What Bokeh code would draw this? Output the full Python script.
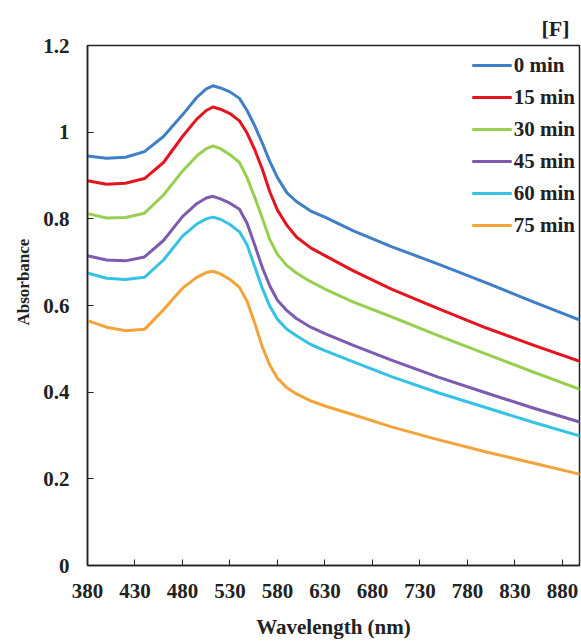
from bokeh.plotting import figure
from bokeh.models import Range1d, FixedTicker, Legend, LegendItem, Title
from bokeh.embed import file_html
from bokeh.resources import INLINE

wavelength = [380, 400, 420, 440, 460, 480, 495, 505, 512, 520, 530, 540, 548, 556, 564,
              572, 580, 590, 600, 615, 630, 660, 700, 750, 800, 850, 900]

abs_0 = [0.945, 0.940, 0.942, 0.955, 0.990, 1.040, 1.080, 1.100, 1.107, 1.102, 1.093, 1.078, 1.050,
         1.015, 0.975, 0.932, 0.895, 0.860, 0.840, 0.818, 0.804, 0.772, 0.736, 0.695, 0.652, 0.608, 0.565]
abs_15 = [0.888, 0.880, 0.882, 0.893, 0.930, 0.990, 1.030, 1.050, 1.058, 1.053, 1.043, 1.026, 0.998,
          0.960, 0.915, 0.862, 0.820, 0.785, 0.758, 0.733, 0.715, 0.680, 0.638, 0.592, 0.548, 0.508, 0.470]
abs_30 = [0.812, 0.802, 0.803, 0.813, 0.855, 0.910, 0.945, 0.962, 0.968, 0.962, 0.948, 0.930, 0.895,
          0.850, 0.802, 0.752, 0.718, 0.692, 0.675, 0.655, 0.638, 0.608, 0.574, 0.530, 0.488, 0.446, 0.405]
abs_45 = [0.715, 0.705, 0.703, 0.712, 0.750, 0.805, 0.835, 0.848, 0.852, 0.846, 0.836, 0.822, 0.790,
          0.740, 0.688, 0.645, 0.612, 0.588, 0.570, 0.550, 0.535, 0.508, 0.474, 0.434, 0.398, 0.363, 0.330]
abs_60 = [0.675, 0.663, 0.660, 0.665, 0.705, 0.760, 0.788, 0.800, 0.804, 0.799, 0.787, 0.770, 0.740,
          0.690, 0.640, 0.598, 0.568, 0.545, 0.530, 0.510, 0.496, 0.470, 0.436, 0.398, 0.364, 0.330, 0.298]
abs_75 = [0.565, 0.550, 0.542, 0.545, 0.590, 0.640, 0.665, 0.676, 0.679, 0.673, 0.660, 0.642, 0.610,
          0.560, 0.505, 0.462, 0.432, 0.410, 0.396, 0.380, 0.368, 0.348, 0.320, 0.290, 0.262, 0.236, 0.210]

series_names = ["0 min", "15 min", "30 min", "45 min", "60 min", "75 min"]
series_values = [abs_0, abs_15, abs_30, abs_45, abs_60, abs_75]
series_colors = ["#3f7fc6", "#e4151f", "#96d04e", "#7d5bb0", "#35c2e5", "#f4a33a"]

x_ticks = [380, 430, 480, 530, 580, 630, 680, 730, 780, 830, 880]
y_ticks = [0, 0.2, 0.4, 0.6, 0.8, 1.0, 1.2]
y_tick_labels = ["0", "0.2", "0.4", "0.6", "0.8", "1", "1.2"]

FONT = "Liberation Serif"

p = figure(width=581, height=641, output_backend="svg", toolbar_location=None,
           x_range=Range1d(380, 898), y_range=Range1d(0, 1.2),
           min_border_left=87, min_border_right=2, min_border_top=45, min_border_bottom=76)

p.title = Title(text="[F]", align="right", text_font=FONT, text_font_size="22px",
                text_font_style="bold", text_color="#222222", offset=10)

renderers = []
for name, vals, col in zip(series_names, series_values, series_colors):
    r = p.line(wavelength, vals, line_color=col, line_width=3, line_join="round")
    renderers.append((name, r))

p.grid.visible = False
p.outline_line_color = "#222222"
p.outline_line_width = 1.5
p.background_fill_color = "white"
p.border_fill_color = "white"

for ax in (p.xaxis[0], p.yaxis[0]):
    ax.axis_line_color = "#222222"
    ax.axis_line_width = 1.5
    ax.major_tick_in = 6
    ax.major_tick_out = 0
    ax.minor_tick_line_color = None
    ax.major_tick_line_color = "#222222"
    ax.major_label_text_font = FONT
    ax.major_label_text_font_size = "21px"
    ax.major_label_text_font_style = "bold"
    ax.major_label_text_color = "#222222"
    ax.axis_label_text_font = FONT
    ax.axis_label_text_font_style = "bold"
    ax.axis_label_text_color = "#222222"

p.xaxis.ticker = FixedTicker(ticks=x_ticks)
p.yaxis.ticker = FixedTicker(ticks=y_ticks)
p.yaxis.major_label_overrides = {t: l for t, l in zip(y_ticks, y_tick_labels)}
p.xaxis.axis_label = "Wavelength (nm)"
p.xaxis.axis_label_text_font_size = "21px"
p.xaxis.major_label_standoff = 18
p.yaxis.major_label_standoff = 18
p.xaxis.axis_label_standoff = 14

# y-axis title as a left-side title, shifted up from the frame bottom as in the original
ytitle = Title(text="Absorbance", align="left", offset=240, standoff=16,
               text_font=FONT, text_font_size="17px", text_font_style="bold",
               text_color="#222222")
p.add_layout(ytitle, "left")

legend = Legend(items=[LegendItem(label=n, renderers=[r]) for n, r in renderers],
                location="top_right")
legend.border_line_color = None
legend.background_fill_alpha = 0
legend.label_text_font = FONT
legend.label_text_font_size = "21px"
legend.label_text_font_style = "bold"
legend.label_text_color = "#222222"
legend.glyph_width = 40
legend.glyph_height = 32
legend.label_height = 32
legend.spacing = 0
legend.label_standoff = 2
legend.margin = 4
legend.padding = 0
p.add_layout(legend)

open("out.html", "w").write(file_html(p, INLINE))
